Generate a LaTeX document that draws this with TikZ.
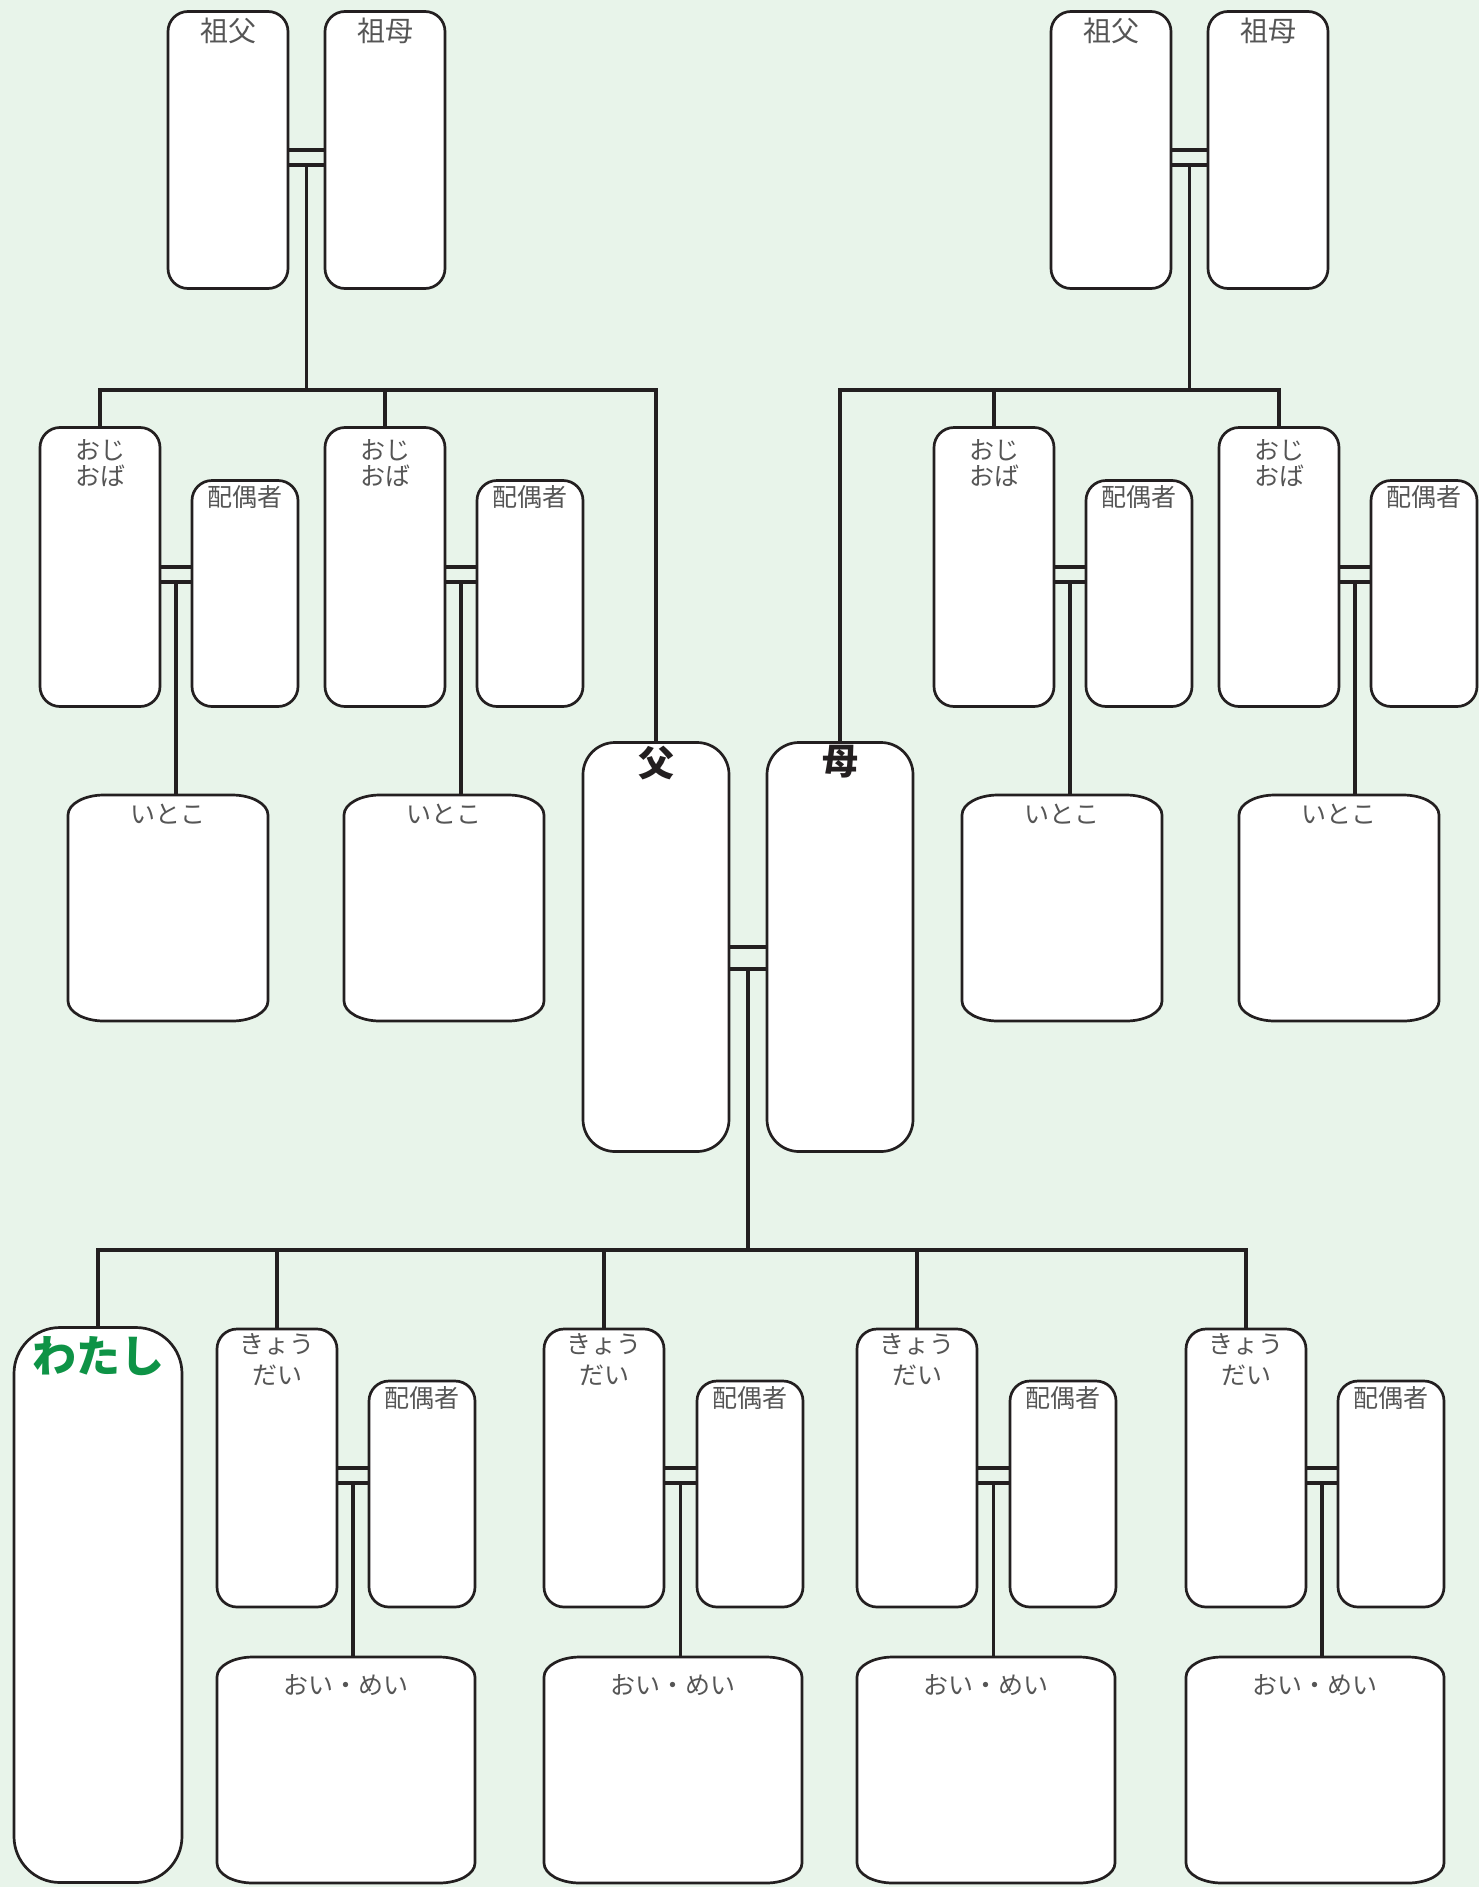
\documentclass[tikz,border=0pt]{standalone}
\usepackage{fontspec}
\newfontfamily\jp{Noto Sans CJK JP}
\usetikzlibrary{positioning,calc}
\definecolor{bgcol}{HTML}{E8F4EA}
\definecolor{linecol}{HTML}{231F20}
\definecolor{labelcol}{HTML}{555555}
\definecolor{mecol}{HTML}{0E9346}

% outline with flat elliptical corners for the cousin / nephew boxes
\newcommand{\ovalframe}[1]{%
  \filldraw[draw=linecol, line width=2.7pt, fill=white]
    ([xshift=36pt]#1.north west) -- ([xshift=-36pt]#1.north east)
    arc[start angle=90, end angle=0, x radius=36pt, y radius=20pt]
    -- ([yshift=20pt]#1.south east)
    arc[start angle=0, end angle=-90, x radius=36pt, y radius=20pt]
    -- ([xshift=36pt]#1.south west)
    arc[start angle=270, end angle=180, x radius=36pt, y radius=20pt]
    -- ([yshift=-20pt]#1.north west)
    arc[start angle=180, end angle=90, x radius=36pt, y radius=20pt] -- cycle;}

\begin{document}
\begin{tikzpicture}[
  x=1pt, y=-1pt,
  person/.style={draw=linecol, line width=2.7pt, fill=white, rounded corners=20pt,
    minimum width=120pt, minimum height=278pt, inner sep=0pt, outer sep=0pt},
  partner/.style={person, minimum width=106pt, minimum height=226pt},
  parent/.style={person, rounded corners=32pt, minimum width=146pt, minimum height=409pt},
  selfbox/.style={person, rounded corners=46pt, minimum width=168pt, minimum height=555pt},
  kin/.style={minimum width=200pt, minimum height=226pt, inner sep=0pt, outer sep=0pt},
  link/.style={draw=linecol, line width=3.2pt},
  lbl/.style={font=\jp\fontsize{25}{27}\selectfont, text=labelcol, inner sep=0pt,
    align=center, anchor=north},
  gplbl/.style={lbl, font=\jp\fontsize{28}{30}\selectfont},
  pairlbl/.style={lbl, font=\jp\fontsize{25}{26}\selectfont},
  siblbl/.style={lbl, font=\jp\fontsize{25}{31}\selectfont},
  parentlbl/.style={lbl, font=\jp\bfseries\fontsize{36}{38}\selectfont, text=linecol},
  melbl/.style={lbl, font=\jp\bfseries\fontsize{44}{46}\selectfont, text=mecol}
]
\useasboundingbox (0,0) rectangle (1479,1887);
\fill[bgcol] (0,0) rectangle (1479,1887);

% grandparents
\node[person, minimum height=277pt] (gpaL) at (228,150) {};
\node[person, minimum height=277pt, right=37pt of gpaL] (gmaL) {};
\node[person, minimum height=277pt] (gpaR) at (1111,150) {};
\node[person, minimum height=277pt, right=37pt of gpaR] (gmaR) {};

% uncles, aunts and their spouses
\node[person, minimum height=279pt] (uncL1) at (100,567) {};
\node[partner, right=32pt of uncL1.south east, anchor=south west] (spL1) {};
\node[person, minimum height=279pt] (uncL2) at (385,567) {};
\node[partner, right=32pt of uncL2.south east, anchor=south west] (spL2) {};
\node[person, minimum height=279pt] (uncR1) at (994,567) {};
\node[partner, right=32pt of uncR1.south east, anchor=south west] (spR1) {};
\node[person, minimum height=279pt] (uncR2) at (1279,567) {};
\node[partner, right=32pt of uncR2.south east, anchor=south west] (spR2) {};

% cousins
\node[kin] (cL1) at (168,908) {};
\node[kin] (cL2) at (444,908) {};
\node[kin] (cR1) at (1062,908) {};
\node[kin] (cR2) at (1339,908) {};

% parents
\node[parent] (dad) at (656,947) {};
\node[parent, right=38pt of dad] (mom) {};

% me, siblings and their spouses
\node[selfbox] (me) at (98,1605) {};
\node[person] (sib1) at (277,1468) {};
\node[partner, right=32pt of sib1.south east, anchor=south west] (sp1) {};
\node[person] (sib2) at (604,1468) {};
\node[partner, right=33pt of sib2.south east, anchor=south west] (sp2) {};
\node[person] (sib3) at (917,1468) {};
\node[partner, right=33pt of sib3.south east, anchor=south west] (sp3) {};
\node[person] (sib4) at (1246,1468) {};
\node[partner, right=32pt of sib4.south east, anchor=south west] (sp4) {};

% nephews and nieces
\node[kin, minimum width=258pt, below=50pt of sib1.south west, anchor=north west] (nep1) {};
\node[kin, minimum width=258pt, below=50pt of sib2.south west, anchor=north west] (nep2) {};
\node[kin, minimum width=258pt, below=50pt of sib3.south west, anchor=north west] (nep3) {};
\node[kin, minimum width=258pt, below=50pt of sib4.south west, anchor=north west] (nep4) {};

\ovalframe{cL1} \ovalframe{cL2} \ovalframe{cR1} \ovalframe{cR2}
\ovalframe{nep1} \ovalframe{nep2} \ovalframe{nep3} \ovalframe{nep4}

% marriages
\draw[link] (gpaL.east) -- (gmaL.west);
\draw[link] ($(gpaL.east)+(0,15)$) -- ($(gmaL.west)+(0,15)$);
\coordinate (jGL) at ($(gpaL.east)!0.5!(gmaL.west)+(0,15)$);
\draw[link] (gpaR.east) -- (gmaR.west);
\draw[link] ($(gpaR.east)+(0,15)$) -- ($(gmaR.west)+(0,15)$);
\coordinate (jGR) at ($(gpaR.east)!0.5!(gmaR.west)+(0,15)$);

\draw[link] (uncL1.east) -- (uncL1.east -| spL1.west);
\draw[link] ($(uncL1.east)+(0,15)$) -- ($(uncL1.east -| spL1.west)+(0,15)$);
\coordinate (jL1) at ($(uncL1.east)!0.5!(uncL1.east -| spL1.west)+(0,15)$);
\draw[link] (uncL2.east) -- (uncL2.east -| spL2.west);
\draw[link] ($(uncL2.east)+(0,15)$) -- ($(uncL2.east -| spL2.west)+(0,15)$);
\coordinate (jL2) at ($(uncL2.east)!0.5!(uncL2.east -| spL2.west)+(0,15)$);
\draw[link] (uncR1.east) -- (uncR1.east -| spR1.west);
\draw[link] ($(uncR1.east)+(0,15)$) -- ($(uncR1.east -| spR1.west)+(0,15)$);
\coordinate (jR1) at ($(uncR1.east)!0.5!(uncR1.east -| spR1.west)+(0,15)$);
\draw[link] (uncR2.east) -- (uncR2.east -| spR2.west);
\draw[link] ($(uncR2.east)+(0,15)$) -- ($(uncR2.east -| spR2.west)+(0,15)$);
\coordinate (jR2) at ($(uncR2.east)!0.5!(uncR2.east -| spR2.west)+(0,15)$);

\draw[link] (dad.east) -- (mom.west);
\draw[link] ($(dad.east)+(0,22)$) -- ($(mom.west)+(0,22)$);
\coordinate (jP) at ($(dad.east)!0.5!(mom.west)+(0,22)$);

\draw[link] (sib1.east) -- (sib1.east -| sp1.west);
\draw[link] ($(sib1.east)+(0,15)$) -- ($(sib1.east -| sp1.west)+(0,15)$);
\coordinate (j1) at ($(sib1.east)!0.5!(sib1.east -| sp1.west)+(0,15)$);
\draw[link] (sib2.east) -- (sib2.east -| sp2.west);
\draw[link] ($(sib2.east)+(0,15)$) -- ($(sib2.east -| sp2.west)+(0,15)$);
\coordinate (j2) at ($(sib2.east)!0.5!(sib2.east -| sp2.west)+(0,15)$);
\draw[link] (sib3.east) -- (sib3.east -| sp3.west);
\draw[link] ($(sib3.east)+(0,15)$) -- ($(sib3.east -| sp3.west)+(0,15)$);
\coordinate (j3) at ($(sib3.east)!0.5!(sib3.east -| sp3.west)+(0,15)$);
\draw[link] (sib4.east) -- (sib4.east -| sp4.west);
\draw[link] ($(sib4.east)+(0,15)$) -- ($(sib4.east -| sp4.west)+(0,15)$);
\coordinate (j4) at ($(sib4.east)!0.5!(sib4.east -| sp4.west)+(0,15)$);

% descent lines
\coordinate (barT) at (0,390);
\coordinate (barC) at (0,1250);
\draw[link] (uncL1.north) -- (uncL1.north |- barT) -- (dad.north |- barT) -- (dad.north);
\draw[link] (uncL2.north) -- (uncL2.north |- barT);
\draw[link] (jGL) -- (jGL |- barT);
\draw[link] (mom.north) -- (mom.north |- barT) -- (uncR2.north |- barT) -- (uncR2.north);
\draw[link] (uncR1.north) -- (uncR1.north |- barT);
\draw[link] (jGR) -- (jGR |- barT);

\draw[link] (jL1) -- (jL1 |- cL1.north);
\draw[link] (jL2) -- (jL2 |- cL2.north);
\draw[link] (jR1) -- (jR1 |- cR1.north);
\draw[link] (jR2) -- (jR2 |- cR2.north);

\draw[link] (jP) -- (jP |- barC);
\draw[link] (me.north) -- (me.north |- barC) -- (sib4.north |- barC) -- (sib4.north);
\draw[link] (sib1.north) -- (sib1.north |- barC);
\draw[link] (sib2.north) -- (sib2.north |- barC);
\draw[link] (sib3.north) -- (sib3.north |- barC);

\draw[link] (j1) -- (j1 |- nep1.north);
\draw[link] (j2) -- (j2 |- nep2.north);
\draw[link] (j3) -- (j3 |- nep3.north);
\draw[link] (j4) -- (j4 |- nep4.north);

% labels
\node[gplbl, below=6pt of gpaL.north] {祖父};
\node[gplbl, below=6pt of gmaL.north] {祖母};
\node[gplbl, below=6pt of gpaR.north] {祖父};
\node[gplbl, below=6pt of gmaR.north] {祖母};

\node[pairlbl, below=12pt of uncL1.north] {おじ\\おば};
\node[pairlbl, below=12pt of uncL2.north] {おじ\\おば};
\node[pairlbl, below=12pt of uncR1.north] {おじ\\おば};
\node[pairlbl, below=12pt of uncR2.north] {おじ\\おば};
\node[lbl, below=5pt of spL1.north] {配偶者};
\node[lbl, below=5pt of spL2.north] {配偶者};
\node[lbl, below=5pt of spR1.north] {配偶者};
\node[lbl, below=5pt of spR2.north] {配偶者};

\node[lbl, below=9pt of cL1.north] {いとこ};
\node[lbl, below=9pt of cL2.north] {いとこ};
\node[lbl, below=9pt of cR1.north] {いとこ};
\node[lbl, below=9pt of cR2.north] {いとこ};

\node[parentlbl, below=3pt of dad.north] {父};
\node[parentlbl, below=3pt of mom.north] {母};
\node[melbl, below=9pt of me.north] {わたし};

\node[siblbl, below=4pt of sib1.north] {きょう\\だい};
\node[siblbl, below=4pt of sib2.north] {きょう\\だい};
\node[siblbl, below=4pt of sib3.north] {きょう\\だい};
\node[siblbl, below=4pt of sib4.north] {きょう\\だい};
\node[lbl, below=5pt of sp1.north] {配偶者};
\node[lbl, below=5pt of sp2.north] {配偶者};
\node[lbl, below=5pt of sp3.north] {配偶者};
\node[lbl, below=5pt of sp4.north] {配偶者};

\node[lbl, below=17pt of nep1.north] {おい・めい};
\node[lbl, below=17pt of nep2.north] {おい・めい};
\node[lbl, below=17pt of nep3.north] {おい・めい};
\node[lbl, below=17pt of nep4.north] {おい・めい};
\end{tikzpicture}
\end{document}
